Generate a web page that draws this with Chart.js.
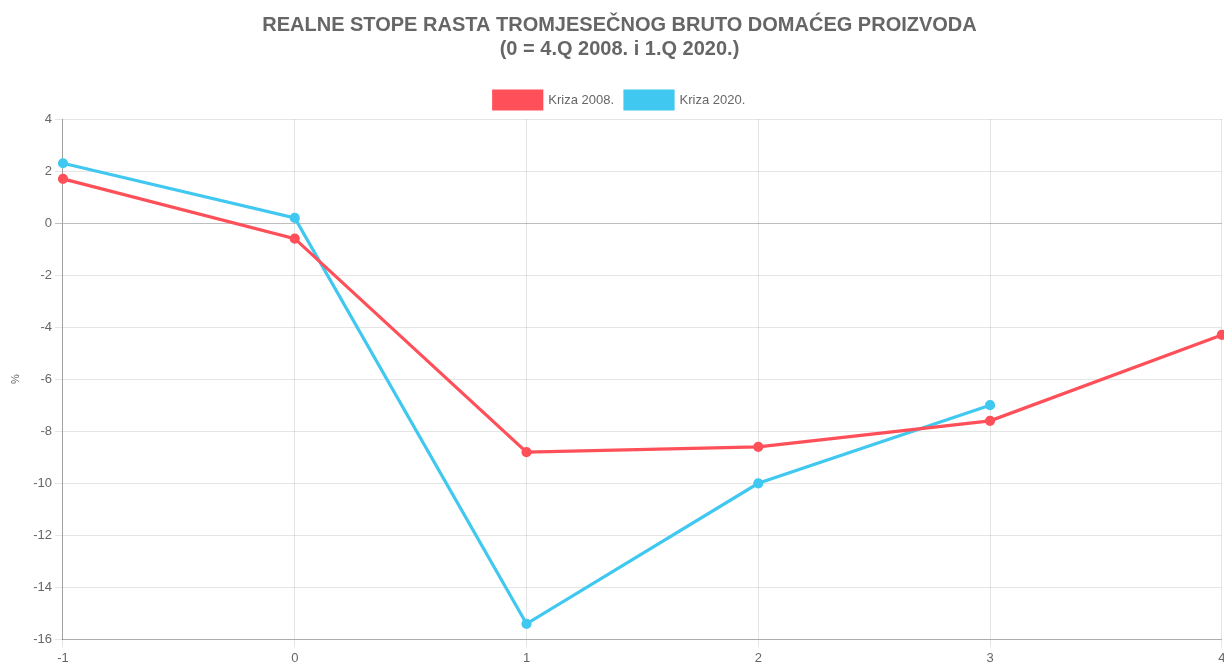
<!DOCTYPE html>
<html>
<head>
<meta charset="utf-8">
<script src="https://cdn.jsdelivr.net/npm/chart.js@4/dist/chart.umd.min.js"></script>
<style>
    html, body { margin: 0; padding: 0; overflow: hidden; background: #fff; }
    #wrap { position: relative; width: 1230px; height: 669px; }
</style>
</head>
<body>
<div id="wrap"><canvas id="gdpChart"></canvas></div>
<script>
// quarters relative to the start of the crisis (0 = 4.Q 2008. / 1.Q 2020.)
const quarters = ['-1', '0', '1', '2', '3', '4'];
const crisis2008 = [1.7, -0.6, -8.8, -8.6, -7.6, -4.3];
const crisis2020 = [2.3, 0.2, -15.4, -10.0, -7.0, null];
const seriesNames = ['Kriza 2008.', 'Kriza 2020.'];

const red = 'rgb(255, 80, 90)';
const blue = 'rgb(64, 200, 240)';

Chart.defaults.font.family = "'Liberation Sans', Arial, sans-serif";
Chart.defaults.color = '#666';

const ctx = document.getElementById('gdpChart').getContext('2d');

const chart = new Chart(ctx, {
    type: 'line',
    data: {
        labels: quarters,
        datasets: [{
            label: seriesNames[0],
            data: crisis2008,
            borderColor: red,
            backgroundColor: red,
            borderWidth: 3.2,
            pointRadius: 3.5,
            pointHoverRadius: 5,
            tension: 0,
            fill: false
        }, {
            label: seriesNames[1],
            data: crisis2020,
            borderColor: blue,
            backgroundColor: blue,
            borderWidth: 3.2,
            pointRadius: 3.5,
            pointHoverRadius: 5,
            tension: 0,
            fill: false
        }]
    },
    options: {
        responsive: true,
        maintainAspectRatio: false,
        animation: false,
        layout: {
            padding: { left: 9, top: 5, right: 0, bottom: 0 }
        },
        scales: {
            x: {
                grid: { color: 'rgba(0,0,0,0.1)', tickLength: 8 },
                border: { color: 'rgba(0,0,0,0.25)' },
                ticks: { font: { size: 13 }, maxRotation: 0 }
            },
            y: {
                min: -16,
                max: 4,
                ticks: { stepSize: 2, font: { size: 13 } },
                grid: {
                    tickLength: 8,
                    color: c => c.tick && c.tick.value === 0 ? 'rgba(0,0,0,0.25)' : 'rgba(0,0,0,0.1)'
                },
                border: { color: 'rgba(0,0,0,0.3)' },
                title: {
                    display: true,
                    text: '%',
                    font: { size: 11 },
                    padding: { top: 0, bottom: 8 }
                }
            }
        },
        plugins: {
            title: {
                display: true,
                text: ['REALNE STOPE RASTA TROMJESEČNOG BRUTO DOMAĆEG PROIZVODA', '(0 = 4.Q 2008. i 1.Q 2020.)'],
                font: { size: 20, weight: 'bold' },
                lineHeight: 1.4,
                padding: { top: 8, bottom: 19 }
            },
            legend: {
                labels: {
                    boxWidth: 48,
                    boxHeight: 18,
                    font: { size: 13 },
                    padding: 11
                }
            },
            tooltip: { enabled: false }
        }
    }
});
</script>
</body>
</html>
